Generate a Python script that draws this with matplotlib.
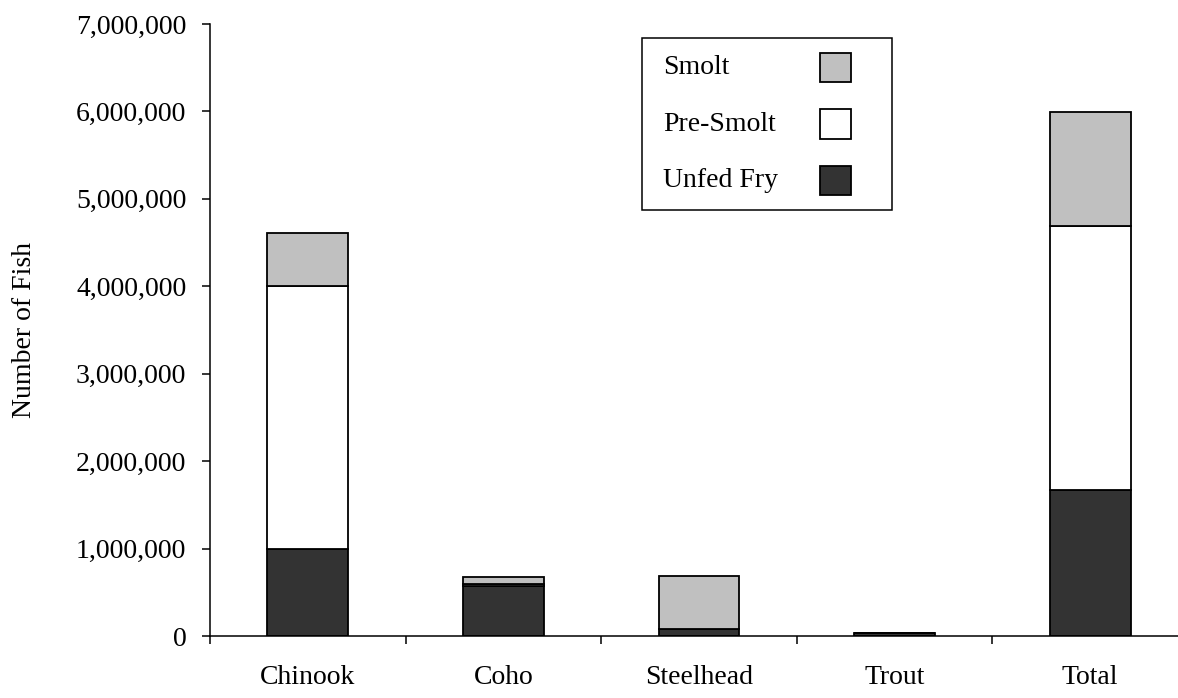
import matplotlib
matplotlib.use("Agg")
import matplotlib.pyplot as plt
from matplotlib.patches import Rectangle
from matplotlib.ticker import FuncFormatter, FixedLocator
import numpy as np

# --------------------------
# Data
# --------------------------
species = ["Chinook", "Coho", "Steelhead", "Trout", "Total"]
unfed_fry = [1000000, 570000, 75000, 30000, 1675000]
pre_smolt = [3000000, 20000, 0, 0, 3020000]
smolt = [610000, 80000, 610000, 0, 1300000]

series_names = ["Smolt", "Pre-Smolt", "Unfed Fry"]
series_colors = {"Unfed Fry": "#333333", "Pre-Smolt": "#ffffff", "Smolt": "#c0c0c0"}

plt.rcParams["font.family"] = ["Liberation Serif", "DejaVu Serif"]
plt.rcParams["font.size"] = 20

fig = plt.figure(figsize=(11.78, 6.98), dpi=100)
# axes spans pixels x 210..1188, y 24..636 (clipped on the right like the original)
ax = fig.add_axes([210 / 1178, 1 - 636 / 698, 978 / 1178, 612 / 698])

x = np.arange(len(species))
w = 0.414
bottom1 = np.array(unfed_fry)
bottom2 = bottom1 + np.array(pre_smolt)
ax.bar(x, unfed_fry, w, color=series_colors["Unfed Fry"], edgecolor="black", linewidth=1.3)
ax.bar(x, pre_smolt, w, bottom=bottom1, color=series_colors["Pre-Smolt"], edgecolor="black", linewidth=1.3)
ax.bar(x, smolt, w, bottom=bottom2, color=series_colors["Smolt"], edgecolor="black", linewidth=1.3)

ax.set_xlim(-0.5, len(species) - 0.5)
ax.set_ylim(0, 7000000)
ax.yaxis.set_major_locator(FixedLocator(np.arange(0, 7000001, 1000000)))
ax.yaxis.set_major_formatter(FuncFormatter(lambda v, p: f"{v:,.0f}"))

# boundaries get the ticks, centers get the labels
ax.xaxis.set_major_locator(FixedLocator(np.arange(-0.5, len(species), 1.0)))
ax.xaxis.set_major_formatter(FuncFormatter(lambda v, p: ""))
ax.xaxis.set_minor_locator(FixedLocator(x))
ax.set_xticklabels(species, minor=True)
ax.tick_params(axis="x", which="minor", length=0, pad=21, labelsize=20)
ax.tick_params(axis="x", which="major", length=6, width=1.1, direction="out")
ax.tick_params(axis="y", length=6, width=1.1, direction="out", pad=11, labelsize=20)

for s in ["top", "right"]:
    ax.spines[s].set_visible(False)
for s in ["left", "bottom"]:
    ax.spines[s].set_linewidth(1.1)

ax.set_ylabel("Number of Fish", fontsize=20)
ax.yaxis.set_label_coords(-0.177, 0.5)

# --------------------------
# Legend drawn by hand: text left-aligned, swatch on the right
# --------------------------
ax.add_patch(Rectangle((0.4417, 0.696), 0.2556, 0.281, transform=ax.transAxes,
                       facecolor="white", edgecolor="black", linewidth=1.1, zorder=5))
rows_y = [0.929, 0.8366, 0.7443]
for name, yy in zip(series_names, rows_y):
    ax.text(0.4632, yy, name, transform=ax.transAxes, fontsize=20,
            va="center", ha="left", zorder=6)
    ax.add_patch(Rectangle((0.6237, yy - 0.0237), 0.0317, 0.0474, transform=ax.transAxes,
                           facecolor=series_colors[name], edgecolor="black",
                           linewidth=1.3, zorder=6))

fig.savefig("out.png", dpi=100)
